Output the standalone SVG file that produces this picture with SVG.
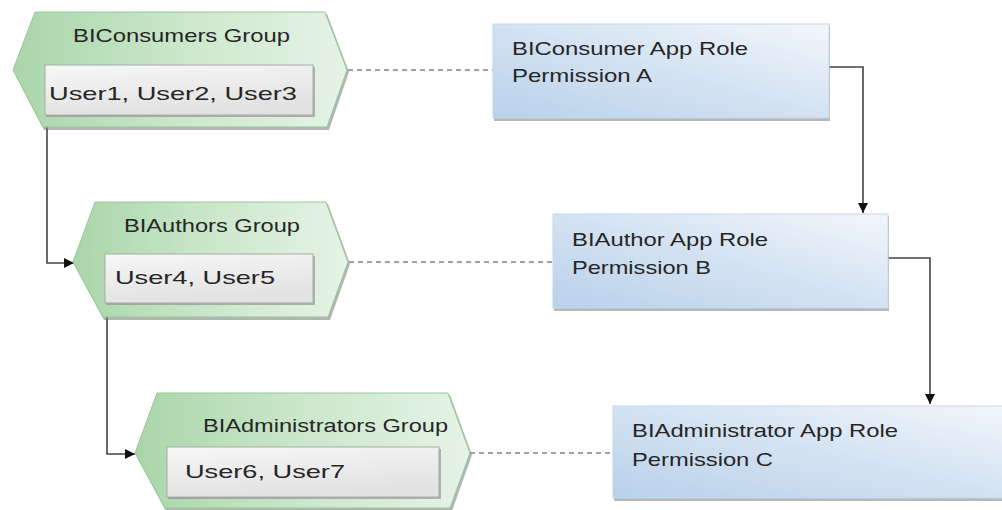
<svg xmlns="http://www.w3.org/2000/svg" width="1002" height="510" viewBox="0 0 1002 510">
<defs>
<linearGradient id="gGreen" x1="0" y1="0" x2="1" y2="0">
<stop offset="0" stop-color="#a9d6a9"/>
<stop offset="0.5" stop-color="#cbe7cb"/>
<stop offset="1" stop-color="#e6f3e6"/>
</linearGradient>
<linearGradient id="gGray" x1="0" y1="0" x2="0.3" y2="1">
<stop offset="0" stop-color="#f7f7f7"/>
<stop offset="1" stop-color="#e2e2e2"/>
</linearGradient>
<linearGradient id="gBlue" x1="0" y1="1" x2="1" y2="0">
<stop offset="0" stop-color="#b9d1ea"/>
<stop offset="0.55" stop-color="#d6e4f3"/>
<stop offset="1" stop-color="#f3f7fc"/>
</linearGradient>
<marker id="arr" viewBox="0 0 10 10" refX="10" refY="5" markerWidth="10" markerHeight="10" markerUnits="userSpaceOnUse" orient="auto">
<path d="M0,0 L10,5 L0,10 z" fill="#111"/>
</marker>
</defs>
<style>
.hex{fill:url(#gGreen);stroke:#96c896;stroke-width:1}
.hexsh{fill:#777;opacity:0.55}
.inner{fill:url(#gGray);stroke:#aaa;stroke-width:1}
.innersh{fill:#888;opacity:0.6}
.role{fill:url(#gBlue);stroke:#c4d8ee;stroke-width:1}
.rolesh{fill:#888;opacity:0.6}
.t{font-family:"Liberation Sans",Arial,sans-serif;font-size:18.5px;fill:#262626}
.u{font-family:"Liberation Sans",Arial,sans-serif;font-size:19px;fill:#262626}
.dash{stroke:#444;stroke-width:1.2;stroke-dasharray:5 4;fill:none}
.link{stroke:#444;stroke-width:1.6;fill:none}
</style>
<g id="connectors">
<line class="dash" x1="348" y1="70" x2="493" y2="70"/>
<line class="dash" x1="349" y1="262" x2="553" y2="262"/>
<line class="dash" x1="470" y1="453" x2="613" y2="453"/>
<polyline class="link" points="47,127 47,263 74,263" marker-end="url(#arr)"/>
<polyline class="link" points="107,317 107,454 135,454" marker-end="url(#arr)"/>
<polyline class="link" points="829,67 863,67 863,213" marker-end="url(#arr)"/>
<polyline class="link" points="888,258 930,258 930,404" marker-end="url(#arr)"/>
</g>
<g id="biconsumers-group">
<polygon class="hexsh" points="14,72 36,14 327,14 349,72 329,130 44,130"/>
<polygon class="hex" points="13,70 35,12 325,12 347,70 327,127 43,127"/>
<text class="t" x="73" y="42" textLength="217" lengthAdjust="spacingAndGlyphs">BIConsumers Group</text>
<rect class="innersh" x="46" y="67" width="269" height="50"/>
<rect class="inner" x="45" y="65" width="268" height="50"/>
<text class="u" x="49" y="100" textLength="248" lengthAdjust="spacingAndGlyphs">User1,  User2,  User3</text>
</g>
<g id="biauthors-group">
<polygon class="hexsh" points="74,264 96,204 328,204 350,264 330,320 104,320"/>
<polygon class="hex" points="73,262 95,202 326,202 348,262 328,317 103,317"/>
<text class="t" x="124" y="232" textLength="176" lengthAdjust="spacingAndGlyphs">BIAuthors Group</text>
<rect class="innersh" x="106" y="256" width="209" height="49"/>
<rect class="inner" x="105" y="254" width="208" height="49"/>
<text class="u" x="115" y="284" textLength="160" lengthAdjust="spacingAndGlyphs">User4, User5</text>
</g>
<g id="biadministrators-group">
<polygon class="hexsh" points="136,455 158,395 450,395 472,455 452,511 166,511"/>
<polygon class="hex" points="135,453 157,393 448,393 470,453 450,508 165,508"/>
<text class="t" x="203" y="432" textLength="245" lengthAdjust="spacingAndGlyphs">BIAdministrators Group</text>
<rect class="innersh" x="168" y="449" width="273" height="50"/>
<rect class="inner" x="167" y="447" width="272" height="50"/>
<text class="u" x="185" y="478" textLength="160" lengthAdjust="spacingAndGlyphs">User6, User7</text>
</g>
<g id="biconsumer-app-role">
<rect class="rolesh" x="494" y="26" width="336" height="95"/>
<rect class="role" x="493" y="24" width="336" height="94"/>
<text class="t" x="512" y="55" textLength="236" lengthAdjust="spacingAndGlyphs">BIConsumer App Role</text>
<text class="t" x="512" y="82" textLength="140" lengthAdjust="spacingAndGlyphs">Permission A</text>
</g>
<g id="biauthor-app-role">
<rect class="rolesh" x="554" y="216" width="335" height="95"/>
<rect class="role" x="553" y="214" width="335" height="94"/>
<text class="t" x="572" y="246" textLength="196" lengthAdjust="spacingAndGlyphs">BIAuthor App Role</text>
<text class="t" x="572" y="274" textLength="139" lengthAdjust="spacingAndGlyphs">Permission B</text>
</g>
<g id="biadministrator-app-role">
<rect class="rolesh" x="614" y="408" width="388" height="93"/>
<rect class="role" x="613" y="406" width="400" height="92"/>
<text class="t" x="632" y="437" textLength="266" lengthAdjust="spacingAndGlyphs">BIAdministrator App Role</text>
<text class="t" x="632" y="466" textLength="141" lengthAdjust="spacingAndGlyphs">Permission C</text>
</g>
</svg>
